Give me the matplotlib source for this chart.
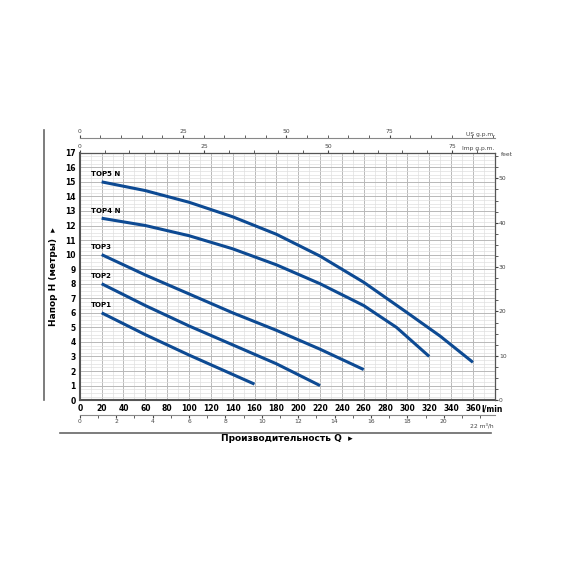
import numpy as np
import matplotlib.pyplot as plt
from matplotlib.ticker import MultipleLocator

# Кривые насосов: Q (л/мин) и H (м)
names = ["TOP1", "TOP2", "TOP3", "TOP4 N", "TOP5 N"]
q_top1 = [20, 60, 100, 130, 160]
h_top1 = [6.0, 4.5, 3.1, 2.1, 1.1]
q_top2 = [20, 60, 100, 140, 180, 220]
h_top2 = [8.0, 6.5, 5.1, 3.8, 2.5, 1.0]
q_top3 = [20, 60, 100, 140, 180, 220, 260]
h_top3 = [10.0, 8.6, 7.3, 6.0, 4.8, 3.5, 2.1]
q_top4 = [20, 60, 100, 140, 180, 220, 260, 290, 320]
h_top4 = [12.5, 12.0, 11.3, 10.4, 9.3, 8.0, 6.5, 5.0, 3.0]
q_top5 = [20, 60, 100, 140, 180, 220, 260, 300, 330, 360]
h_top5 = [15.0, 14.4, 13.6, 12.6, 11.4, 9.9, 8.1, 6.0, 4.4, 2.6]
curves = [(q_top1, h_top1), (q_top2, h_top2), (q_top3, h_top3), (q_top4, h_top4), (q_top5, h_top5)]

blue = "#0d4a93"
fig = plt.figure(figsize=(5.7, 5.7), dpi=100)
ax = fig.add_axes([0.14, 0.298, 0.728, 0.434])
ax.set_xlim(0, 380)
ax.set_ylim(0, 17)
ax.xaxis.set_minor_locator(MultipleLocator(10))
ax.yaxis.set_major_locator(MultipleLocator(1))
ax.yaxis.set_minor_locator(MultipleLocator(0.25))
ax.grid(which="major", color="#b8b8b8", lw=0.7)
ax.grid(which="minor", color="#e0e0e0", lw=0.5)
ax.set_xticks(np.arange(0, 361, 20))
ax.tick_params(which="both", labelsize=5.5, length=0, pad=3)
for lab in ax.get_xticklabels() + ax.get_yticklabels():
    lab.set_fontweight("bold")
for sp in ax.spines.values():
    sp.set_color("#555555")
ax.spines["left"].set_linewidth(1.5)
ax.spines["bottom"].set_linewidth(1.5)

for name, (q, h) in zip(names, curves):
    ax.plot(q, h, color=blue, lw=2.2, solid_capstyle="butt")
    ax.text(q[0] - 10, h[0] + 0.3, name, fontsize=5, fontweight="bold", va="bottom")

ax.text(368, -0.3, "l/min", fontsize=5.5, fontweight="bold", va="top", ha="left")
ax.text(0.5, -0.165, "Производительность Q  ▸", transform=ax.transAxes, ha="center",
        fontsize=6.5, fontweight="bold")
ax.set_ylabel("Напор H (метры)  ▸", fontsize=6.5, fontweight="bold", labelpad=5)

# m3/h снизу
axm = ax.secondary_xaxis(-0.06, functions=(lambda x: x / 16.667, lambda x: x * 16.667))
axm.set_xticks(np.arange(0, 21, 2))
axm.xaxis.set_minor_locator(MultipleLocator(1))
axm.tick_params(which="both", labelsize=4.3, length=2, colors="#444444", pad=1)
axm.spines["bottom"].set_color("#888888")
ax.text(368, -1.55, "22 m³/h", fontsize=4.3, ha="center", va="top", color="#444444")

# галлоны сверху
axi = ax.secondary_xaxis("top", functions=(lambda x: x / 4.546, lambda x: x * 4.546))
axi.set_xticks([0, 25, 50, 75])
axi.xaxis.set_minor_locator(MultipleLocator(5))
axi.tick_params(which="both", labelsize=4.3, length=2, colors="#444444", pad=1)
ax.text(380, 17.1, "Imp g.p.m.", fontsize=4.3, ha="right", va="bottom", color="#444444")

axu = ax.secondary_xaxis(1.06, functions=(lambda x: x / 3.785, lambda x: x * 3.785))
axu.set_xticks([0, 25, 50, 75])
axu.xaxis.set_minor_locator(MultipleLocator(5))
axu.tick_params(which="both", labelsize=4.3, length=2, colors="#444444", pad=1)
axu.spines["top"].set_color("#888888")
ax.text(380, 18.1, "US g.p.m.", fontsize=4.3, ha="right", va="bottom", color="#444444")

# футы справа
axf = ax.secondary_yaxis("right", functions=(lambda y: y * 3.281, lambda y: y / 3.281))
axf.set_yticks([0, 10, 20, 30, 40, 50])
axf.yaxis.set_minor_locator(MultipleLocator(2.5))
axf.tick_params(which="both", labelsize=4.3, length=2, colors="#444444", pad=1)
ax.text(386, 16.9, "feet", fontsize=4.3, ha="left", va="center", color="#444444")

# рамочные линии
fig.add_artist(plt.Line2D([0.077, 0.077], [0.298, 0.772], color="#666666", lw=1.2))
fig.add_artist(plt.Line2D([0.105, 0.862], [0.24, 0.24], color="#666666", lw=1.2))

fig.savefig("out.png", dpi=100)
